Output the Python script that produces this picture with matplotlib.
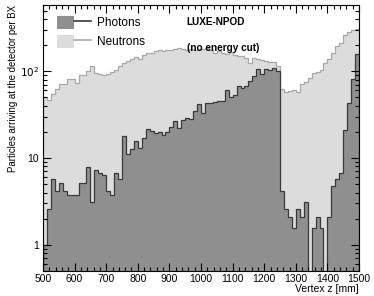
import numpy as np
import matplotlib
matplotlib.use("Agg")
import matplotlib.pyplot as plt
from matplotlib.patches import Patch
from matplotlib.lines import Line2D
from matplotlib.legend_handler import HandlerTuple
from matplotlib.ticker import FixedLocator, LogLocator, NullFormatter, FixedFormatter

plt.rcParams['font.family'] = ['Liberation Sans', 'DejaVu Sans']

# 80 bins of 12.5 mm from 500 to 1500 mm
z_lo, z_hi, n_bins = 500, 1500, 80

photons = [
    1.0, 2.6, 5.7, 4.2, 5.2, 4.2, 3.7, 3.7, 3.7, 5.2,
    5.2, 7.9, 3.1, 7.3, 6.8, 6.3, 4.2, 3.7, 6.8, 5.8,
    17.9, 11.1, 12.7, 15.5, 13.0, 16.8, 21.6, 20.3, 19.5, 20.0,
    18.6, 19.8, 22.8, 26.9, 22.2, 27.7, 28.6, 28.1, 35.2, 41.5,
    33.0, 43.0, 43.0, 44.5, 45.0, 45.0, 60.0, 50.0, 53.0, 67.0,
    64.0, 67.0, 77.0, 87.0, 106.0, 93.0, 107.0, 104.0, 108.0, 100.0,
    4.2, 2.6, 2.1, 1.56, 2.6, 2.1, 3.1, 0.0, 1.56, 2.1,
    1.56, 0.0, 2.1, 4.7, 5.8, 6.8, 20.8, 43.0, 81.0, 160.0,
]

neutrons = [
    50.5, 47, 54.7, 63, 72, 72, 81.5, 81.5, 73, 90,
    90, 100, 116, 96, 94, 91, 92, 97, 104, 116,
    125, 130, 139, 146, 139, 155, 163, 163, 173, 174,
    170, 174, 177, 179, 185, 179, 174, 179, 177, 179,
    181, 185, 177, 163, 170, 163, 160, 165, 155, 149,
    149, 142, 125, 142, 139, 136, 130, 127, 127, 114,
    62, 57, 59, 60, 57, 72, 74.5, 84, 96, 98,
    104, 125, 139, 163, 197, 212, 264, 281, 302, 307,
]

y_ticks = [1, 10, 100]
y_tick_labels = ["1", "10", r"$10^{2}$"]

floor = 1e-3
edges = np.linspace(z_lo, z_hi, n_bins + 1)
ph = np.maximum(np.array(photons, dtype=float), floor)
ne = np.maximum(np.array(neutrons, dtype=float), floor)

ph_fill, ph_line = "#8f8f8f", "#3a3a3a"
ne_fill, ne_line = "#dcdcdc", "#a8a8a8"

fig = plt.figure(figsize=(3.74, 2.96), dpi=100)
ax = fig.add_axes([0.115, 0.085, 0.845, 0.898])

ax.stairs(ne, edges, baseline=floor, fill=True, color=ne_fill, lw=0)
ax.stairs(ne, edges, baseline=floor, fill=False, color=ne_line, lw=0.9)
ax.stairs(ph, edges, baseline=floor, fill=True, color=ph_fill, lw=0)
ax.stairs(ph, edges, baseline=floor, fill=False, color=ph_line, lw=0.9)

ax.set_yscale("log")
ax.set_xlim(z_lo, z_hi)
ax.set_ylim(0.5, 580)

ax.xaxis.set_major_locator(FixedLocator(np.arange(500, 1501, 100)))
ax.xaxis.set_minor_locator(FixedLocator(np.arange(500, 1501, 20)))
ax.yaxis.set_major_locator(FixedLocator(y_ticks))
ax.yaxis.set_major_formatter(FixedFormatter(y_tick_labels))
ax.yaxis.set_minor_locator(LogLocator(base=10, subs=np.arange(2, 10)))
ax.yaxis.set_minor_formatter(NullFormatter())

ax.tick_params(which="both", direction="in", top=True, right=True,
               labelsize=7.5, width=0.8, color="black")
ax.tick_params(which="major", length=6, pad=3)
ax.tick_params(which="minor", length=3)
ax.tick_params(axis="x", which="major", pad=2)
for s in ax.spines.values():
    s.set_linewidth(0.8)

ax.set_xlabel("Vertex z [mm]", fontsize=7.5, loc="right", labelpad=0)
ax.set_ylabel("Particles arriving at the detector per BX", fontsize=6.9,
              loc="top", labelpad=1)

handles = [(Patch(facecolor=ph_fill, edgecolor="none"), Line2D([], [], color=ph_line, lw=1.2)),
           (Patch(facecolor=ne_fill, edgecolor="none"), Line2D([], [], color=ne_line, lw=1.2))]
ax.legend(handles, ["Photons", "Neutrons"], handler_map={tuple: HandlerTuple(ndivide=None, pad=0)},
          loc="upper left", bbox_to_anchor=(0.01, 1.0), frameon=False, fontsize=8.5,
          handlelength=2.9, handleheight=1.3, labelspacing=0.5, handletextpad=0.5)

ax.text(0.455, 0.935, "LUXE-NPOD", transform=ax.transAxes, fontsize=7.2,
        fontweight="bold", va="center", ha="left")
ax.text(0.455, 0.84, "(no energy cut)", transform=ax.transAxes, fontsize=7.2,
        fontweight="bold", va="center", ha="left")

fig.savefig("out.png", dpi=100)
